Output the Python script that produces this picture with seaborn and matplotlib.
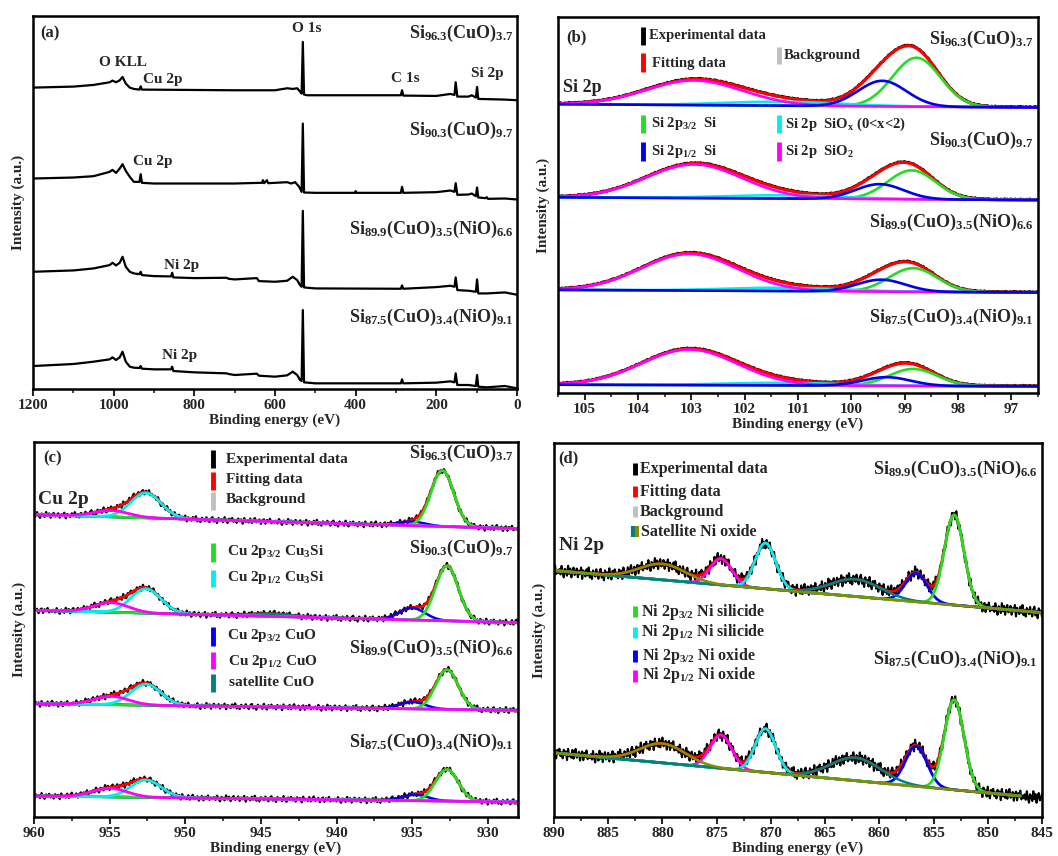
import numpy as np
import seaborn as sns
import matplotlib.pyplot as plt
from matplotlib.lines import Line2D
from matplotlib.ticker import MultipleLocator

sns.set_theme(style='ticks')
plt.rcParams['font.family'] = ['Liberation Serif', 'DejaVu Serif']
plt.rcParams['font.weight'] = 'bold'
plt.rcParams['axes.labelweight'] = 'bold'
plt.rcParams['mathtext.fontset'] = 'custom'
plt.rcParams['mathtext.rm'] = 'Liberation Serif:bold'
plt.rcParams['mathtext.it'] = 'Liberation Serif:bold'
plt.rcParams['mathtext.bf'] = 'Liberation Serif:bold'
plt.rcParams['mathtext.default'] = 'bf'

W, H = 1058, 856

samples = [r'Si$_{96.3}$(CuO)$_{3.7}$', r'Si$_{90.3}$(CuO)$_{9.7}$',
           r'Si$_{89.9}$(CuO)$_{3.5}$(NiO)$_{6.6}$', r'Si$_{87.5}$(CuO)$_{3.4}$(NiO)$_{9.1}$']

# ---- (a) survey spectra
be_s1 = [1200, 1100, 1050, 1010, 1003, 994, 985, 978, 970, 960, 950, 936, 933, 930, 700, 600, 570, 556, 545, 538,
         534, 531, 528, 520, 288, 285, 282, 200, 165, 155, 152, 148, 120, 112, 102, 99, 96, 30, 0]
y_s1 = [905, 908, 913, 921, 926, 921, 927, 937, 917, 905, 901, 899, 909, 899, 897, 897, 903, 901, 903, 893,
        887, 1042, 884, 882, 882, 897, 881, 880, 886, 883, 921, 878, 878, 882, 875, 907, 871, 869, 867]
be_s2 = [1200, 1100, 1050, 1010, 1003, 994, 985, 978, 970, 960, 950, 936, 933, 930, 900, 700, 640, 632, 630, 627,
         620, 617, 570, 560, 550, 540, 534, 531, 528, 500, 402, 400, 398, 288, 285, 282, 200, 165, 155, 152,
         148, 120, 112, 102, 99, 96, 78, 75, 72, 30, 0]
y_s2 = [632, 635, 639, 652, 658, 649, 662, 675, 655, 637, 622, 622, 645, 619, 617, 617, 619, 619, 627, 618,
        627, 618, 621, 617, 621, 607, 592, 797, 590, 589, 589, 594, 589, 589, 607, 589, 591, 596, 592, 618,
        583, 584, 587, 579, 605, 575, 573, 576, 571, 572, 569]
be_s34 = [1200, 1100, 1050, 1010, 1003, 994, 985, 978, 970, 960, 950, 936, 933, 930, 900, 858, 855, 852, 800, 720,
          715, 700, 645, 640, 600, 570, 556, 545, 538, 534, 531, 528, 500, 288, 285, 282, 200, 165, 155, 152,
          148, 120, 102, 99, 96, 75, 30, 0]
y_s3 = [352, 356, 362, 372, 379, 371, 379, 397, 367, 352, 347, 345, 352, 342, 339, 338, 349, 335, 333, 334,
        331, 329, 333, 324, 322, 325, 337, 327, 312, 307, 535, 305, 302, 301, 311, 301, 306, 310, 307, 335,
        297, 295, 292, 329, 287, 287, 290, 283]
y_s4 = [69, 75, 82, 89, 95, 87, 95, 112, 82, 67, 64, 63, 69, 61, 59, 59, 67, 54, 50, 47,
        45, 42, 46, 40, 37, 41, 52, 42, 27, 24, 237, 20, 17, 17, 29, 17, 19, 23, 20, 47,
        12, 12, 9, 42, 7, 5, 9, 2]

# ---- (b) Si 2p fit parameters (centre eV, height, sigma)
b_base_left = [868, 588, 310, 25]
b_base_right = [858, 580, 302, 20]
b_sio2_pos = [102.95, 102.95, 103.04, 103.04]
b_sio2_h = [74, 101, 110, 107]
b_siox_h = [12, 10, 10, 8]
b_p12_pos = [99.42, 99.47, 99.44, 99.34]
b_p12_h = [77, 45, 36, 26]
b_p32_pos = [98.78, 98.87, 98.84, 98.84]
b_p32_h = [147, 87, 71, 51]

# ---- (c) Cu 2p fit parameters
c_base_left = [907, 620, 340, 63]
c_base_right = [865, 583, 320, 45]
c_cu3si_32_pos = [933.0, 932.7, 932.7, 932.7]
c_cu3si_32_h = [168, 165, 119, 95]
c_cuo_32_pos = [935.0, 935.0, 935.0, 934.8]
c_cuo_32_h = [12, 36, 21, 18]
c_cu3si_12_h = [75, 73, 63, 52]
c_cuo_12_pos = [954.9, 954.9, 954.9, 955.0]
c_cuo_12_h = [19, 29, 25, 26]
c_sat_h = [0, 8, 0, 0]

# ---- (d) Ni 2p fit parameters
d_base_left = [738, 192]
d_base_right = [612, 57]
d_sat1_h = [48, 58]
d_ox12_h = [78, 99]
d_sil12_h = [137, 131]
d_sat2_h = [52, 69]
d_ox32_h = [85, 120]
d_sil32_h = [270, 270]
d_fit_end = [845, 847]

# residuals of the experimental traces (hand read texture)
resid = [0.3, -0.5, 0.8, -0.2, -0.9, 0.4, 0.1, -0.6, 0.9, -0.3, 0.5, -0.8, 0.2, 0.7, -0.4, -0.1, 0.6, -0.7, 0.3, -0.2,
         0.8, -0.9, 0.4, 0.0, -0.5, 0.6, -0.3, 0.9, -0.6, 0.2, -0.8, 0.5, 0.1, -0.4, 0.7, -0.2, -0.7, 0.4, 0.8, -0.5,
         0.2, -0.9, 0.6, -0.1, 0.3, -0.6, 0.9, -0.3, -0.8, 0.5, 0.0, 0.7, -0.4, 0.2, -0.7, 0.6, -0.2, 0.4, -0.9, 0.8,
         -0.3, 0.1, -0.5, 0.7, -0.6, 0.3, 0.9, -0.4, -0.1, 0.5, -0.8, 0.2, 0.6, -0.7, 0.4, -0.2, 0.8, -0.5, 0.1, -0.3]

GREEN, CYAN, BLUE, MAG, RED = '#22dd22', '#00eeee', '#0000ee', '#ff00ff', '#ff0000'
TEAL, OLIVE, GRAY = '#008080', '#8b8b00', '#c0c0c0'


def gauss(x, c, h, s):
    return h * np.exp(-0.5 * ((x - c) / s) ** 2)


def noise(n, k):
    return np.resize(np.roll(resid, k), n)


def line(ax, x, y, color, lw=1.6):
    sns.lineplot(x=x, y=y, ax=ax, color=color, lw=lw, sort=False, estimator=None)


def style(ax, xlim, major, minor, ylim):
    ax.set_xlim(*xlim)
    ax.set_ylim(*ylim)
    ax.set_xticks(major)
    ax.xaxis.set_minor_locator(MultipleLocator(minor))
    ax.set_yticks([])
    ax.tick_params(axis='x', which='major', direction='out', length=5, width=1.5, labelsize=11, pad=2)
    ax.tick_params(axis='x', which='minor', direction='out', length=3, width=1.2)
    for s in ax.spines.values():
        s.set_linewidth(1.8)
        s.set_color('black')
    ax.set_xlabel('Binding energy (eV)', fontsize=11, fontweight='bold', labelpad=1)
    ax.set_ylabel('Intensity (a.u.)', fontsize=11, fontweight='bold', labelpad=6)


fig = plt.figure(figsize=(W / 100, H / 100), dpi=100)


def ftext(x, y, s, size, ha='left'):
    fig.text(x / W, 1 - y / H, s, fontsize=size, fontweight='bold', ha=ha, va='center')


def fbar(x, y0, y1, color, lw=3.5):
    fig.add_artist(Line2D([x / W, x / W], [1 - y0 / H, 1 - y1 / H], color=color, lw=lw, solid_capstyle='butt'))


axa = fig.add_axes([33 / W, 1 - 389 / H, 484 / W, 373 / H])
axb = fig.add_axes([558 / W, 1 - 393 / H, 480 / W, 376 / H])
axc = fig.add_axes([34 / W, 1 - 817 / H, 484 / W, 375 / H])
axd = fig.add_axes([554 / W, 1 - 817 / H, 488 / W, 374 / H])

# ---------------- (a)
for bx, by in [(be_s1, y_s1), (be_s2, y_s2), (be_s34, y_s3), (be_s34, y_s4)]:
    line(axa, bx, by, 'black', 1.6)
style(axa, (1200, 0), range(1200, -1, -200), 100, (0, 1120))
ftext(40, 33, '(a)', 12)
ftext(123, 62, 'O KLL', 11, 'center')
ftext(163, 79, 'Cu 2p', 11, 'center')
ftext(307, 29, 'O 1s', 11, 'center')
ftext(405, 78, 'C 1s', 11, 'center')
ftext(487, 74, 'Si 2p', 11, 'center')
ftext(153, 162, 'Cu 2p', 11, 'center')
ftext(182, 266, 'Ni 2p', 11, 'center')
ftext(180, 356, 'Ni 2p', 11, 'center')
for s, yy in zip(samples, [33, 130, 229, 317]):
    ftext(513, yy, s, 13, 'right')

# ---------------- (b)
xb = np.linspace(105.5, 96.5, 361)
for i in range(4):
    base = b_base_left[i] + (b_base_right[i] - b_base_left[i]) * (105.5 - xb) / 9.0
    g32 = gauss(xb, b_p32_pos[i], b_p32_h[i], 0.45)
    g12 = gauss(xb, b_p12_pos[i], b_p12_h[i], 0.45)
    gox = gauss(xb, 101.3, b_siox_h[i], 1.1)
    go2 = gauss(xb, b_sio2_pos[i], b_sio2_h[i], 0.9)
    fit = base + g32 + g12 + gox + go2
    line(axb, xb, fit + 1.5 + 2 * noise(len(xb), 7 * i), 'black', 2.0)
    line(axb, xb, fit, RED, 2.2)
    line(axb, xb, base, GRAY, 1.5)
    line(axb, xb, base + g32, GREEN, 1.9)
    line(axb, xb, base + gox, CYAN, 1.9)
    line(axb, xb, base + go2, MAG, 1.9)
    line(axb, xb, base + g12, BLUE, 1.9)
style(axb, (105.5, 96.5), range(105, 96, -1), 0.5, (0, 1130))
ftext(566, 37, '(b)', 12)
ftext(563, 88, 'Si 2p', 13)
fbar(643, 27, 45, 'black'); ftext(649, 35, 'Experimental data', 10.5)
fbar(643, 53, 72, RED); ftext(652, 63, 'Fitting data', 10.5)
fbar(779, 47, 64, GRAY); ftext(784, 55, 'Background', 10.5)
fbar(643, 115, 133, GREEN); ftext(651, 124, r'Si 2p$_{3/2}$  Si', 10.5)
fbar(643, 142, 161, BLUE); ftext(651, 151, r'Si 2p$_{1/2}$  Si', 10.5)
fbar(779, 115, 133, CYAN); ftext(785, 124, r'Si 2p  SiO$_x$ (0<x<2)', 10.5)
fbar(779, 142, 161, MAG); ftext(785, 151, r'Si 2p  SiO$_2$', 10.5)
for s, yy in zip(samples, [39, 140, 222, 317]):
    ftext(1033, yy, s, 13, 'right')

# ---------------- (c)
xc = np.linspace(960, 928, 321)
for i in range(4):
    base = c_base_left[i] + (c_base_right[i] - c_base_left[i]) * (960 - xc) / 32.0
    g1 = gauss(xc, c_cu3si_32_pos[i], c_cu3si_32_h[i], 0.75)
    g2 = gauss(xc, 952.6, c_cu3si_12_h[i], 1.0)
    g3 = gauss(xc, c_cuo_32_pos[i], c_cuo_32_h[i], 0.85)
    g4 = gauss(xc, c_cuo_12_pos[i], c_cuo_12_h[i], 1.15)
    g5 = gauss(xc, 944.3, c_sat_h[i], 1.3)
    fit = base + g1 + g2 + g3 + g4 + g5
    line(axc, xc, fit + 10 * noise(len(xc), 13 * i), 'black', 1.6)
    line(axc, xc, fit, RED, 2.0)
    line(axc, xc, base, GRAY, 1.5)
    line(axc, xc, base + g5, TEAL, 1.8)
    line(axc, xc, base + g3, BLUE, 1.8)
    line(axc, xc, base + g1, GREEN, 2.0)
    line(axc, xc, base + g2, CYAN, 2.0)
    line(axc, xc, base + g4, MAG, 2.0)
style(axc, (960, 928), range(960, 927, -5), 2.5, (0, 1125))
ftext(43, 458, '(c)', 12)
ftext(38, 500, 'Cu 2p', 14)
fbar(213, 450, 468, 'black'); ftext(226, 459, 'Experimental data', 11)
fbar(213, 472, 490, RED); ftext(226, 479, 'Fitting data', 11)
fbar(213, 492, 510, GRAY); ftext(226, 499, 'Background', 11)
fbar(213, 543, 562, GREEN); ftext(227, 552, r'Cu 2p$_{3/2}$ Cu$_3$Si', 11)
fbar(213, 570, 587, CYAN); ftext(227, 578, r'Cu 2p$_{1/2}$ Cu$_3$Si', 11)
fbar(213, 627, 646, BLUE); ftext(227, 636, r'Cu 2p$_{3/2}$ CuO', 11)
fbar(213, 652, 669, MAG); ftext(228, 661, r'Cu 2p$_{1/2}$ CuO', 11)
fbar(213, 674, 692, TEAL); ftext(229, 683, 'satellite CuO', 11)
for s, yy in zip(samples, [453, 548, 648, 742]):
    ftext(513, yy, s, 13, 'right')

# ---------------- (d)
xd = np.linspace(890, 845, 451)
for i in range(2):
    base = d_base_left[i] + (d_base_right[i] - d_base_left[i]) * (890 - xd) / 45.0
    s1 = gauss(xd, 880.0, d_sat1_h[i], 2.1)
    o12 = gauss(xd, 874.6, d_ox12_h[i], 1.0)
    n12 = gauss(xd, 870.5, d_sil12_h[i], 0.95)
    s2 = gauss(xd, 862.2, d_sat2_h[i], 2.3)
    o32 = gauss(xd, 856.6, d_ox32_h[i], 1.0)
    n32 = gauss(xd, 853.1, d_sil32_h[i], 0.9)
    fit = base + s1 + o12 + n12 + s2 + o32 + n32
    line(axd, xd, fit + 20 * noise(len(xd), 29 * i + 5), 'black', 1.5)
    m = xd >= d_fit_end[i]
    line(axd, xd[m], fit[m], RED, 2.0)
    line(axd, xd[m], base[m], GRAY, 1.5)
    line(axd, xd[m], base[m] + o12[m], MAG, 1.8)
    line(axd, xd[m], base[m] + n12[m], CYAN, 2.0)
    line(axd, xd[m], base[m] + o32[m], BLUE, 2.0)
    line(axd, xd[m], base[m] + n32[m], GREEN, 2.0)
    line(axd, xd[m], base[m] + s2[m], TEAL, 1.8)
    line(axd, xd[m], base[m] + s1[m], OLIVE, 1.8)
style(axd, (890, 845), range(890, 844, -5), 2.5, (0, 1120))
ftext(558, 458, '(d)', 12)
ftext(559, 545, 'Ni 2p', 14)
fbar(635, 463, 475, 'black'); ftext(640, 469, 'Experimental data', 11.5)
fbar(635, 486, 497, RED); ftext(640, 492, 'Fitting data', 11.5)
fbar(635, 506, 517, GRAY); ftext(640, 512, 'Background', 11.5)
fbar(633, 526, 537, TEAL, 3); fbar(637, 526, 537, OLIVE, 3); ftext(641, 532, 'Satellite Ni oxide', 11.5)
fbar(635, 606, 617, GREEN); ftext(641, 612, r'Ni 2p$_{3/2}$ Ni silicide', 11.5)
fbar(635, 627, 638, CYAN); ftext(641, 632, r'Ni 2p$_{1/2}$ Ni silicide', 11.5)
fbar(635, 650, 662, BLUE); ftext(642, 656, r'Ni 2p$_{3/2}$ Ni oxide', 11.5)
fbar(635, 670, 682, MAG); ftext(642, 675, r'Ni 2p$_{1/2}$ Ni oxide', 11.5)
for s, yy in zip(samples[2:], [469, 659]):
    ftext(1037, yy, s, 13, 'right')

fig.savefig('out.png', dpi=100)
